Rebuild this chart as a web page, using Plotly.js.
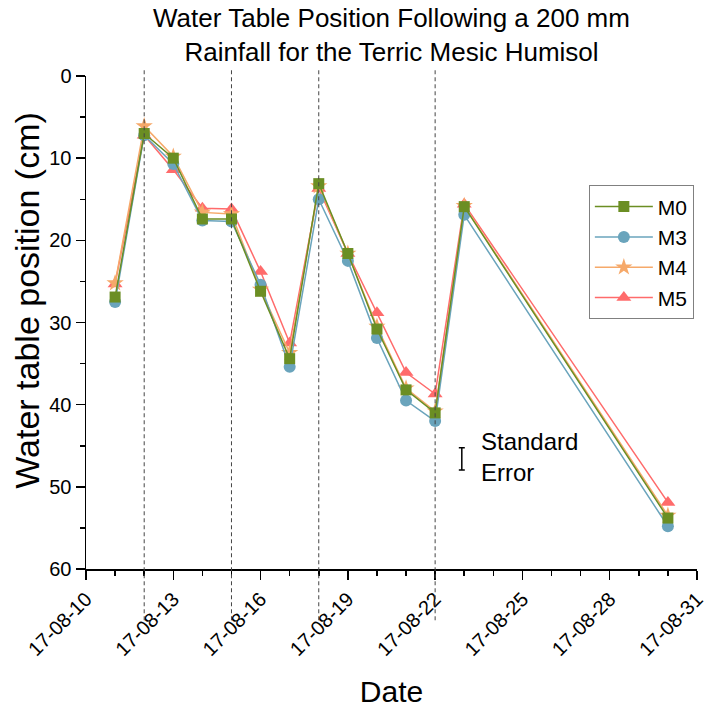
<!DOCTYPE html>
<html>
<head>
<meta charset="utf-8">
<script src="https://cdn.plot.ly/plotly-3.0.1.min.js"></script>
<style>html,body{margin:0;padding:0;background:#fff;}</style>
</head>
<body>
<div id="chart" style="width:712px;height:708px;"></div>
<script>
const dates = ['2017-08-11','2017-08-12','2017-08-13','2017-08-14','2017-08-15','2017-08-16','2017-08-17','2017-08-18','2017-08-19','2017-08-20','2017-08-21','2017-08-22','2017-08-23','2017-08-30'];
const M0 = [26.9, 7.0, 10.0, 17.4, 17.4, 26.2, 34.4, 13.1, 21.6, 30.8, 38.2, 41.0, 15.9, 53.8];
const M3 = [27.5, 7.2, 10.7, 17.6, 17.7, 25.4, 35.4, 15.0, 22.5, 31.9, 39.5, 42.0, 16.9, 54.8];
const M4 = [25.2, 6.1, 9.8, 16.6, 16.8, 26.0, 33.7, 13.4, 21.6, 30.5, 38.0, 40.8, 15.8, 53.5];
const M5 = [25.3, 7.2, 11.4, 16.1, 16.2, 23.8, 32.5, 13.7, 21.6, 28.8, 36.1, 38.7, 15.6, 51.9];
const rainDates = ['2017-08-12','2017-08-15','2017-08-18','2017-08-22'];
const seX = ['2017-08-22 22:00'];
const seY = [46.6];
const seErr = [1.35];

const FONT = 'Liberation Sans, Arial, sans-serif';

function series(name, y, color, symbol, size) {
  return {
    x: dates, y: y, name: name, type: 'scatter', mode: 'lines+markers',
    line: {color: color, width: 1.5},
    marker: {color: color, symbol: symbol, size: size}
  };
}

// drawn bottom-to-top: M5 first, M0 last (on top); legend reversed to read M0..M5
const traces = [
  series('M5', M5, '#FF6B6B', 'triangle-up', 13),
  series('M4', M4, '#F6A96A', 'star', 13),
  series('M3', M3, '#6AA4BC', 'circle', 12),
  series('M0', M0, '#6B8E23', 'square', 11),
  {
    x: seX, y: seY, type: 'scatter', mode: 'markers', showlegend: false,
    marker: {size: 1, color: 'rgba(0,0,0,0)'},
    error_y: {type: 'data', array: seErr, visible: true, color: '#000', thickness: 1.5, width: 3},
    hoverinfo: 'skip'
  }
];

const shapes = rainDates.map(d => ({
  type: 'line', xref: 'x', yref: 'paper', x0: d, x1: d, y0: -0.104, y1: 1.013,
  line: {color: '#444', width: 1, dash: '4px,3px'}
}));

const layout = {
  width: 712, height: 708,
  margin: {l: 86, r: 15, t: 76, b: 139},
  paper_bgcolor: '#fff', plot_bgcolor: '#fff',
  font: {family: FONT, color: '#000'},
  title: {
    text: 'Water Table Position Following a 200 mm<br>Rainfall for the Terric Mesic Humisol',
    font: {family: FONT, size: 26, color: '#000'},
    xref: 'paper', x: 0.5, xanchor: 'center',
    yref: 'container', y: 0.962, yanchor: 'top'
  },
  xaxis: {
    type: 'date',
    range: ['2017-08-10', '2017-08-31'],
    tick0: '2017-08-10', dtick: 3 * 86400000,
    tickformat: '%y-%m-%d', tickangle: -45,
    tickfont: {family: FONT, size: 20, color: '#000'},
    ticks: 'outside', ticklen: 9, tickwidth: 1.5, tickcolor: '#000',
    minor: {dtick: 86400000, ticks: 'outside', ticklen: 5, tickwidth: 1.5, tickcolor: '#000', showgrid: false},
    showline: true, linecolor: '#000', linewidth: 1.5,
    showgrid: false, zeroline: false,
    title: {text: 'Date', font: {family: FONT, size: 30, color: '#000'}, standoff: 22}
  },
  yaxis: {
    range: [60, 0],
    dtick: 10, tick0: 0,
    tickfont: {family: FONT, size: 20, color: '#000'},
    ticks: 'outside', ticklen: 9, tickwidth: 1.5, tickcolor: '#000',
    minor: {dtick: 5, ticks: 'outside', ticklen: 5, tickwidth: 1.5, tickcolor: '#000', showgrid: false},
    showline: true, linecolor: '#000', linewidth: 1.5,
    showgrid: false, zeroline: false,
    title: {text: ''}
  },
  legend: {
    x: 0.823, y: 0.778, xanchor: 'left', yanchor: 'top',
    bordercolor: '#808080', borderwidth: 1, bgcolor: '#fff',
    font: {family: FONT, size: 21, color: '#000'},
    traceorder: 'reversed',
    itemwidth: 58
  },
  shapes: shapes,
  annotations: [
    {
      xref: 'paper', yref: 'y', x: 0.643, y: 46.4, xanchor: 'left', yanchor: 'middle',
      text: 'Standard<br>Error', align: 'left', showarrow: false,
      font: {family: FONT, size: 24, color: '#000'}
    },
    {
      xref: 'paper', yref: 'paper', x: -0.0966, y: 0.546, xanchor: 'center', yanchor: 'middle',
      text: 'Water table position (cm)', textangle: -90, showarrow: false,
      font: {family: FONT, size: 34, color: '#000'}
    }
  ],
  showlegend: true
};

Plotly.newPlot('chart', traces, layout, {displayModeBar: false, staticPlot: true});
</script>
</body>
</html>
